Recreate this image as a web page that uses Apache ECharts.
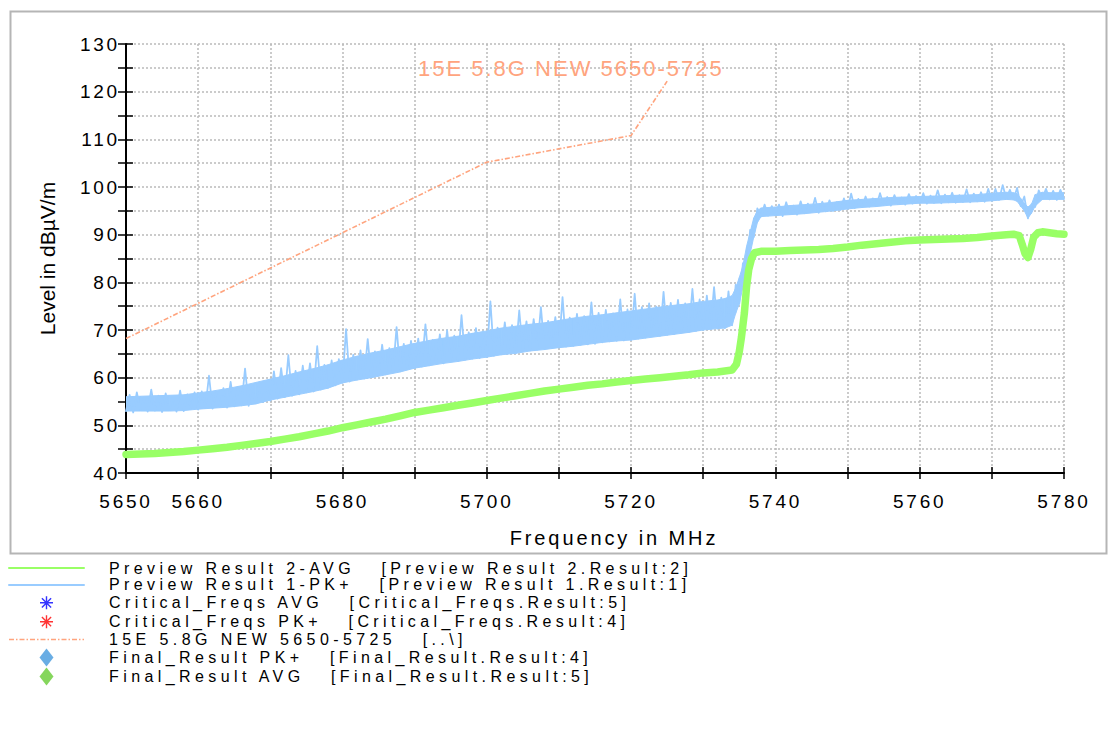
<!DOCTYPE html>
<html>
<head>
<meta charset="utf-8">
<style>
html,body{margin:0;padding:0;background:#fff;}
#chart{width:1108px;height:755px;}
</style>
<script src="https://cdn.jsdelivr.net/npm/echarts@6/dist/echarts.min.js"></script>
</head>
<body>
<div id="chart"></div>
<script>
// ---------- data ----------
const xTickLabels = [5650, 5660, 5680, 5700, 5720, 5740, 5760, 5780];
const yTickLabels = [40, 50, 60, 70, 80, 90, 100, 110, 120, 130];

const legendNames = [
  'Preview Result 2-AVG',
  'Preview Result 1-PK+',
  'Critical_Freqs AVG',
  'Critical_Freqs PK+',
  '15E 5.8G NEW 5650-5725',
  'Final_Result PK+',
  'Final_Result AVG'
];
const legendSuffix = [
  '   [Preview Result 2.Result:2]',
  '   [Preview Result 1.Result:1]',
  '   [Critical_Freqs.Result:5]',
  '   [Critical_Freqs.Result:4]',
  '   [..\\]',
  '   [Final_Result.Result:4]',
  '   [Final_Result.Result:5]'
];

// limit line
const limitFreq  = [5650, 5700, 5720, 5725];
const limitLevel = [68.2, 105.2, 110.8, 122.2];
const limitLabel = '15E 5.8G NEW 5650-5725';

// Preview Result 1-PK+ : sweep 5650..5780 MHz, 0.5 MHz per sample (noise peaks/dips)
const pkStartFreq = 5650;
const pkStepMHz = 0.5;
const pkLevel = [
  53.0,56.4,52.7,56.9,53.2,55.8,52.9,57.5,53.1,56.2,52.8,56.7,53.3,55.9,52.9,57.3,53.0,56.5,53.4,56.9,
  53.3,57.1,53.6,60.4,53.5,57.0,53.9,57.8,53.7,59.1,54.0,58.0,54.2,61.9,54.1,58.3,54.6,59.0,54.9,58.6,
  55.2,61.3,55.6,62.0,55.9,64.7,56.2,61.4,56.5,62.5,56.9,63.0,57.1,66.6,57.5,62.7,57.9,63.6,58.4,63.9,
  58.9,70.2,59.2,64.8,59.6,65.7,59.8,68.1,60.1,65.5,60.5,66.9,60.7,66.2,61.1,70.6,61.3,67.1,61.8,67.7,
  62.0,68.2,62.3,71.2,62.6,67.9,62.9,69.1,63.0,69.9,63.4,68.8,63.5,73.1,63.8,69.5,64.0,70.4,64.1,69.7,
  64.3,76.0,64.6,70.5,64.9,71.6,65.2,71.0,65.1,74.1,65.5,71.8,65.7,72.3,65.9,74.8,66.0,71.9,66.2,72.7,
  66.3,76.9,66.5,72.6,66.7,73.4,66.9,72.9,67.0,75.8,67.1,73.6,67.4,74.2,67.6,73.5,67.7,76.4,67.8,74.3,
  67.9,77.6,68.2,74.8,68.4,75.6,68.7,74.9,68.8,78.0,69.0,75.7,69.2,76.3,69.5,75.6,69.6,78.6,69.8,76.4,
  70.0,77.2,70.2,79.0,70.3,76.8,70.4,78.1,71.0,79.5,75.5,84.0,81.5,91.0,89.5,95.5,93.8,96.3,94.0,96.0,
  94.1,96.3,93.9,96.8,94.3,96.1,94.2,97.0,94.5,96.5,94.8,97.7,94.6,96.9,94.9,97.2,95.0,96.8,95.2,97.6,
  95.4,98.6,95.6,97.5,95.8,98.0,95.9,97.6,96.0,98.7,96.2,97.9,96.1,98.3,96.4,97.8,96.3,98.5,96.5,98.1,
  96.6,98.7,96.5,98.2,96.7,99.3,96.6,98.4,96.8,98.8,96.7,98.3,96.9,99.5,96.8,98.6,97.0,98.9,96.9,99.6,
  97.1,99.6,97.3,100.4,97.6,99.4,97.4,99.8,96.0,98.0,93.4,96.4,95.8,99.3,97.5,99.6,97.4,99.2,97.3,99.4,
  97.5
];

// Preview Result 1-PK+ : dense body of the trace (lower / upper edge of the filled band)
const pkEdgeFreq = [
  5650,5652,5654,5656,5658,5660,5662,5664,5666,5668,5670,5672,5674,5676,5678,5680,5682,5684,5686,5688,
  5690,5692,5694,5696,5698,5700,5702,5704,5706,5708,5710,5712,5714,5716,5718,5720,5722,5724,5726,5728,
  5730,5732,5733,5734,5734.5,5735,5735.5,5736,5736.5,5737,5737.5,5738,5740,5742,5744,5746,5748,5750,
  5752,5754,5756,5758,5760,5762,5764,5766,5768,5770,5772,5773,5773.5,5774,5774.5,5775,5775.5,5776,
  5777,5778,5780
];
const pkLowEdge = [
  53.0,53.0,53.0,53.0,53.1,53.4,53.6,53.8,54.1,54.5,55.3,55.9,56.5,57.1,57.8,58.9,59.5,60.0,60.6,61.2,
  62.0,62.5,63.0,63.4,63.9,64.3,64.8,65.1,65.6,65.9,66.3,66.6,67.0,67.4,67.7,67.9,68.3,68.7,69.1,69.5,
  70.0,70.3,70.4,71.0,73.5,75.5,79.0,81.5,86.0,89.5,92.5,93.8,94.0,94.2,94.4,94.7,95.0,95.4,
  95.7,95.9,96.2,96.4,96.6,96.6,96.7,96.8,96.9,97.1,97.4,97.3,97.0,96.0,95.0,93.5,94.5,96.0,
  97.4,97.4,97.4
];
const pkHighEdge = [
  56.0,56.1,56.2,56.3,56.4,56.8,57.2,57.7,58.3,59.0,59.7,60.4,61.2,61.9,62.7,63.7,64.5,65.2,65.8,66.5,
  67.2,67.8,68.3,68.7,69.3,69.8,70.4,70.8,71.2,71.5,72.0,72.5,72.9,73.2,73.6,74.0,74.4,74.8,75.2,75.5,
  76.0,76.3,76.6,77.2,78.8,81.0,83.5,87.5,90.5,93.5,95.0,95.6,95.8,96.1,96.3,96.5,96.8,97.2,
  97.4,97.6,97.8,97.9,98.0,98.1,98.2,98.3,98.4,98.7,98.9,98.8,98.6,97.6,96.6,95.8,96.4,98.4,
  98.9,98.8,98.8
];

// Preview Result 2-AVG
const avgFreq = [
  5650,5652,5654,5656,5658,5660,5662,5664,5666,5668,5670,5672,5674,5676,5678,5680,5682,5684,5686,5688,
  5690,5692,5694,5696,5698,5700,5702,5704,5706,5708,5710,5712,5714,5716,5718,5720,5722,5724,5726,5728,
  5730,5732,5734,5734.6,5735,5735.3,5735.7,5736,5736.3,5736.7,5737.1,5738,5740,5742,5744,5746,5748,5750,
  5752,5754,5756,5758,5760,5762,5764,5766,5768,5770,5772,5773,5773.8,5774.2,5774.6,5775,5775.4,5775.8,
  5776.4,5777,5778,5779,5780
];
const avgLevel = [
  43.9,44.0,44.1,44.3,44.5,44.8,45.1,45.4,45.8,46.2,46.6,47.1,47.6,48.2,48.8,49.5,50.1,50.7,51.3,52.0,
  52.7,53.2,53.7,54.2,54.7,55.2,55.7,56.2,56.7,57.2,57.6,58.0,58.4,58.7,59.1,59.4,59.7,60.0,60.3,60.6,
  61.0,61.2,61.6,62.8,65.5,68.5,73.5,79.0,82.6,85.0,86.2,86.5,86.5,86.7,86.8,86.9,87.1,87.4,
  87.8,88.1,88.4,88.7,88.9,89.0,89.1,89.2,89.4,89.7,90.0,90.1,89.8,88.0,86.0,85.2,87.0,89.5,
  90.4,90.6,90.4,90.2,90.1
];

// markers listed in the legend, no points visible in this view
const criticalAvg = [];
const criticalPk = [];
const finalPk = [];
const finalAvg = [];

// ---------- build ----------
const pkData = pkLevel.map((v, i) => [pkStartFreq + i * pkStepMHz, v]);
const pkBodyData = pkEdgeFreq.map((f, i) => [f, pkLowEdge[i], pkHighEdge[i]]);
const avgData = avgLevel.map((v, i) => [avgFreq[i], v]);
const limitData = limitLevel.map((v, i) => [limitFreq[i], v]);

const FONT = '"Liberation Sans", Arial, Helvetica, sans-serif';
const GRID_LINE = { color: '#bbbbbb', width: 1.5, type: [2, 2] };
const AXIS_COLOR = '#000';
const PK_COLOR = '#99ccff';
const AVG_COLOR = '#99ff66';
const LIMIT_COLOR = '#ffa47e';

const asteriskPath = 'path://M-9,-9L-8.99,-9L-8.99,-8.99L-9,-8.99Z M8.99,8.99L9,8.99L9,9L8.99,9Z ' +
  'M-0.7,-6.5L0.7,-6.5L0.7,6.5L-0.7,6.5Z M-6.5,-0.7L6.5,-0.7L6.5,0.7L-6.5,0.7Z ' +
  'M-4.1,-5.1L5.1,4.1L4.1,5.1L-5.1,-4.1Z M-5.1,4.1L4.1,-5.1L5.1,-4.1L-4.1,5.1Z';
const diamondPath = 'path://M0,-9L7,0L0,9L-7,0Z';

// filled body of the PK+ trace between lower and upper edge, segment by segment
function renderPkBody(params, api) {
  const i = params.dataIndex;
  if (i >= pkBodyData.length - 1) return null;
  const a = pkBodyData[i], b = pkBodyData[i + 1];
  const pts = [
    api.coord([a[0], a[1]]), api.coord([b[0], b[1]]),
    api.coord([b[0], b[2]]), api.coord([a[0], a[2]])
  ];
  return {
    type: 'polygon',
    shape: { points: pts },
    style: { fill: PK_COLOR, stroke: PK_COLOR, lineWidth: 1 }
  };
}

const chart = echarts.init(document.getElementById('chart'), null, { renderer: 'svg' });

const option = {
  animation: false,
  backgroundColor: '#ffffff',
  textStyle: { fontFamily: FONT },
  grid: { left: 126, right: 44, top: 44, bottom: 282, containLabel: false, outerBoundsMode: 'none' },
  graphic: [
    {
      type: 'rect', left: 8, top: 9, z: -10, silent: true,
      shape: { width: 1096, height: 542 },
      style: { fill: 'none', stroke: '#b5b5b5', lineWidth: 2 }
    },
    {
      type: 'text', left: 418, top: 57, z: 10, silent: true,
      style: { text: limitLabel, fill: LIMIT_COLOR, font: '22px ' + FONT }
    }
  ],
  xAxis: [
    {
      type: 'value', min: 5650, max: 5780, interval: 10,
      name: 'Frequency in MHz', nameLocation: 'middle', nameGap: 55,
      nameTextStyle: { fontSize: 20, color: '#000', fontFamily: FONT, padding: [0, 0, 0, 38] },
      axisLine: { show: true, onZero: false, lineStyle: { color: AXIS_COLOR, width: 2 } },
      axisTick: { show: true, length: 6, lineStyle: { color: AXIS_COLOR, width: 1.5 } },
      axisLabel: {
        fontSize: 19, color: '#000', fontFamily: FONT, margin: 19,
        formatter: v => (xTickLabels.indexOf(v) >= 0 ? String(v) : '')
      },
      splitLine: { show: true, lineStyle: GRID_LINE }
    },
    {
      type: 'value', min: 5650, max: 5780, interval: 10, position: 'bottom',
      axisLine: { show: false },
      axisTick: { show: true, inside: true, length: 6, lineStyle: { color: AXIS_COLOR, width: 1.5 } },
      axisLabel: { show: false }, splitLine: { show: false }
    }
  ],
  yAxis: [
    {
      type: 'value', min: 40, max: 130, interval: 5,
      name: 'Level in dBµV/m', nameLocation: 'middle', nameGap: 56,
      nameTextStyle: { fontSize: 21, color: '#000', fontFamily: FONT, padding: [0, 0, 12, 0] },
      axisLine: { show: true, onZero: false, lineStyle: { color: AXIS_COLOR, width: 2 } },
      axisTick: { show: true, length: 8, lineStyle: { color: AXIS_COLOR, width: 1.5 } },
      axisLabel: {
        fontSize: 19, color: '#000', fontFamily: FONT, margin: 6,
        formatter: v => (yTickLabels.indexOf(v) >= 0 ? String(v) : '')
      },
      splitLine: { show: true, lineStyle: GRID_LINE }
    },
    {
      type: 'value', min: 40, max: 130, interval: 5, position: 'left',
      axisLine: { show: false },
      axisTick: { show: true, inside: true, length: 7, lineStyle: { color: AXIS_COLOR, width: 1.5 } },
      axisLabel: { show: false }, splitLine: { show: false }
    }
  ],
  legend: {
    orient: 'vertical', left: 3, top: 555, padding: 5,
    itemWidth: 75, itemHeight: 18, itemGap: 0.9,
    selectedMode: false, symbolKeepAspect: true,
    textStyle: { fontSize: 16, color: '#000', fontFamily: FONT, lineHeight: 16, padding: [0, 0, 0, 20] },
    formatter: name => name + legendSuffix[legendNames.indexOf(name)],
    data: [
      { name: legendNames[0], lineStyle: { width: 2 }, itemStyle: { opacity: 0 } },
      { name: legendNames[1], lineStyle: { width: 2 }, itemStyle: { opacity: 0 } },
      { name: legendNames[2], icon: asteriskPath },
      { name: legendNames[3], icon: asteriskPath },
      { name: legendNames[4], lineStyle: { width: 1.5 }, itemStyle: { opacity: 0 } },
      { name: legendNames[5], icon: diamondPath },
      { name: legendNames[6], icon: diamondPath }
    ]
  },
  series: [
    {
      name: 'pk-body', type: 'custom', data: pkBodyData, renderItem: renderPkBody,
      encode: { x: 0, y: [1, 2] }, clip: true, silent: true, z: 1,
      itemStyle: { color: PK_COLOR }
    },
    {
      name: legendNames[1], type: 'line', data: pkData, symbol: 'none', showSymbol: false,
      sampling: false,
      lineStyle: { color: PK_COLOR, width: 1.8, join: 'round', cap: 'round' },
      itemStyle: { color: PK_COLOR }, z: 2, silent: true
    },
    {
      name: legendNames[0], type: 'line', data: avgData, symbol: 'none', showSymbol: false,
      lineStyle: { color: AVG_COLOR, width: 7.5, join: 'round', cap: 'round' },
      itemStyle: { color: AVG_COLOR }, z: 3, silent: true
    },
    {
      name: legendNames[2], type: 'scatter', data: criticalAvg, symbol: asteriskPath, symbolSize: 14,
      itemStyle: { color: '#0000ff' }
    },
    {
      name: legendNames[3], type: 'scatter', data: criticalPk, symbol: asteriskPath, symbolSize: 14,
      itemStyle: { color: '#ff0000' }
    },
    {
      name: legendNames[4], type: 'line', data: limitData, symbol: 'none', showSymbol: false,
      lineStyle: { color: LIMIT_COLOR, width: 1.6, type: [5, 2, 1.5, 2] },
      itemStyle: { color: LIMIT_COLOR }, z: 4, silent: true
    },
    {
      name: legendNames[5], type: 'scatter', data: finalPk, symbol: diamondPath, symbolSize: 16,
      itemStyle: { color: '#4499dd' }
    },
    {
      name: legendNames[6], type: 'scatter', data: finalAvg, symbol: diamondPath, symbolSize: 16,
      itemStyle: { color: '#66cc33' }
    }
  ]
};

chart.setOption(option);

// wide text tracking, as in the reference export (horizontal text only)
const TRACKING = { 16: 4.4, 19: 2.8, 20: 2.9, 21: 0, 22: 2.0 };
function applyTracking() {
  document.querySelectorAll('#chart svg text').forEach(t => {
    const fs = Math.round(parseFloat(getComputedStyle(t).fontSize));
    const ls = TRACKING[fs];
    if (ls !== undefined) t.style.letterSpacing = ls + 'px';
    t.style.whiteSpace = 'pre';
    t.setAttributeNS('http://www.w3.org/XML/1998/namespace', 'xml:space', 'preserve');
  });
}
applyTracking();
chart.on('finished', applyTracking);
</script>
</body>
</html>
